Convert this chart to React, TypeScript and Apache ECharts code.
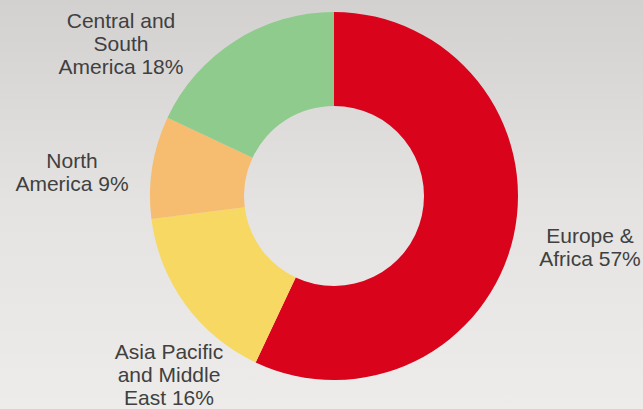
import React, { useEffect, useRef } from "react";
import * as echarts from "echarts";

const regions = [
  "Europe &\nAfrica",
  "Asia Pacific\nand Middle\nEast",
  "North\nAmerica",
  "Central and\nSouth\nAmerica",
];
const shares = [57, 16, 9, 18];
const colors = ["#d9031c", "#f6d862", "#f6bc6f", "#8ecb8c"];
// label anchor points (px) for each slice
const labelAnchors = [
  [590, 247],
  [169, 374],
  [72, 172],
  [121, 43],
];

export default function App() {
  const ref = useRef<HTMLDivElement>(null);
  useEffect(() => {
    document.body.style.margin = "0";
    const chart = echarts.init(ref.current!, null, { renderer: "svg" });
    chart.setOption({
      animation: false,
      backgroundColor: {
        type: "linear",
        x: 0,
        y: 0,
        x2: 0,
        y2: 1,
        colorStops: [
          { offset: 0, color: "#d3d1d0" },
          { offset: 0.5, color: "#e4e3e1" },
          { offset: 1, color: "#edecea" },
        ],
      },
      series: [
        {
          type: "pie",
          center: [334, 196],
          radius: [90, 184],
          startAngle: 90,
          clockwise: true,
          silent: true,
          data: regions.map((name, i) => ({
            name,
            value: shares[i],
            itemStyle: { color: colors[i] },
          })),
          label: {
            show: true,
            position: "outside",
            alignTo: "none",
            overflow: "none",
            formatter: (p: any) => `${p.name} ${p.value}%`,
            color: "#404040",
            fontFamily: "'Liberation Sans', Arial, sans-serif",
            fontSize: 21,
            lineHeight: 23,
            align: "center",
          },
          labelLine: { show: false },
          labelLayout: (params: any) => {
            const a = labelAnchors[params.dataIndex];
            return {
              x: a[0],
              y: a[1],
              align: "center",
              verticalAlign: "middle",
            };
          },
        },
      ],
    });
    return () => chart.dispose();
  }, []);
  return <div ref={ref} style={{ width: 643, height: 409 }} />;
}
